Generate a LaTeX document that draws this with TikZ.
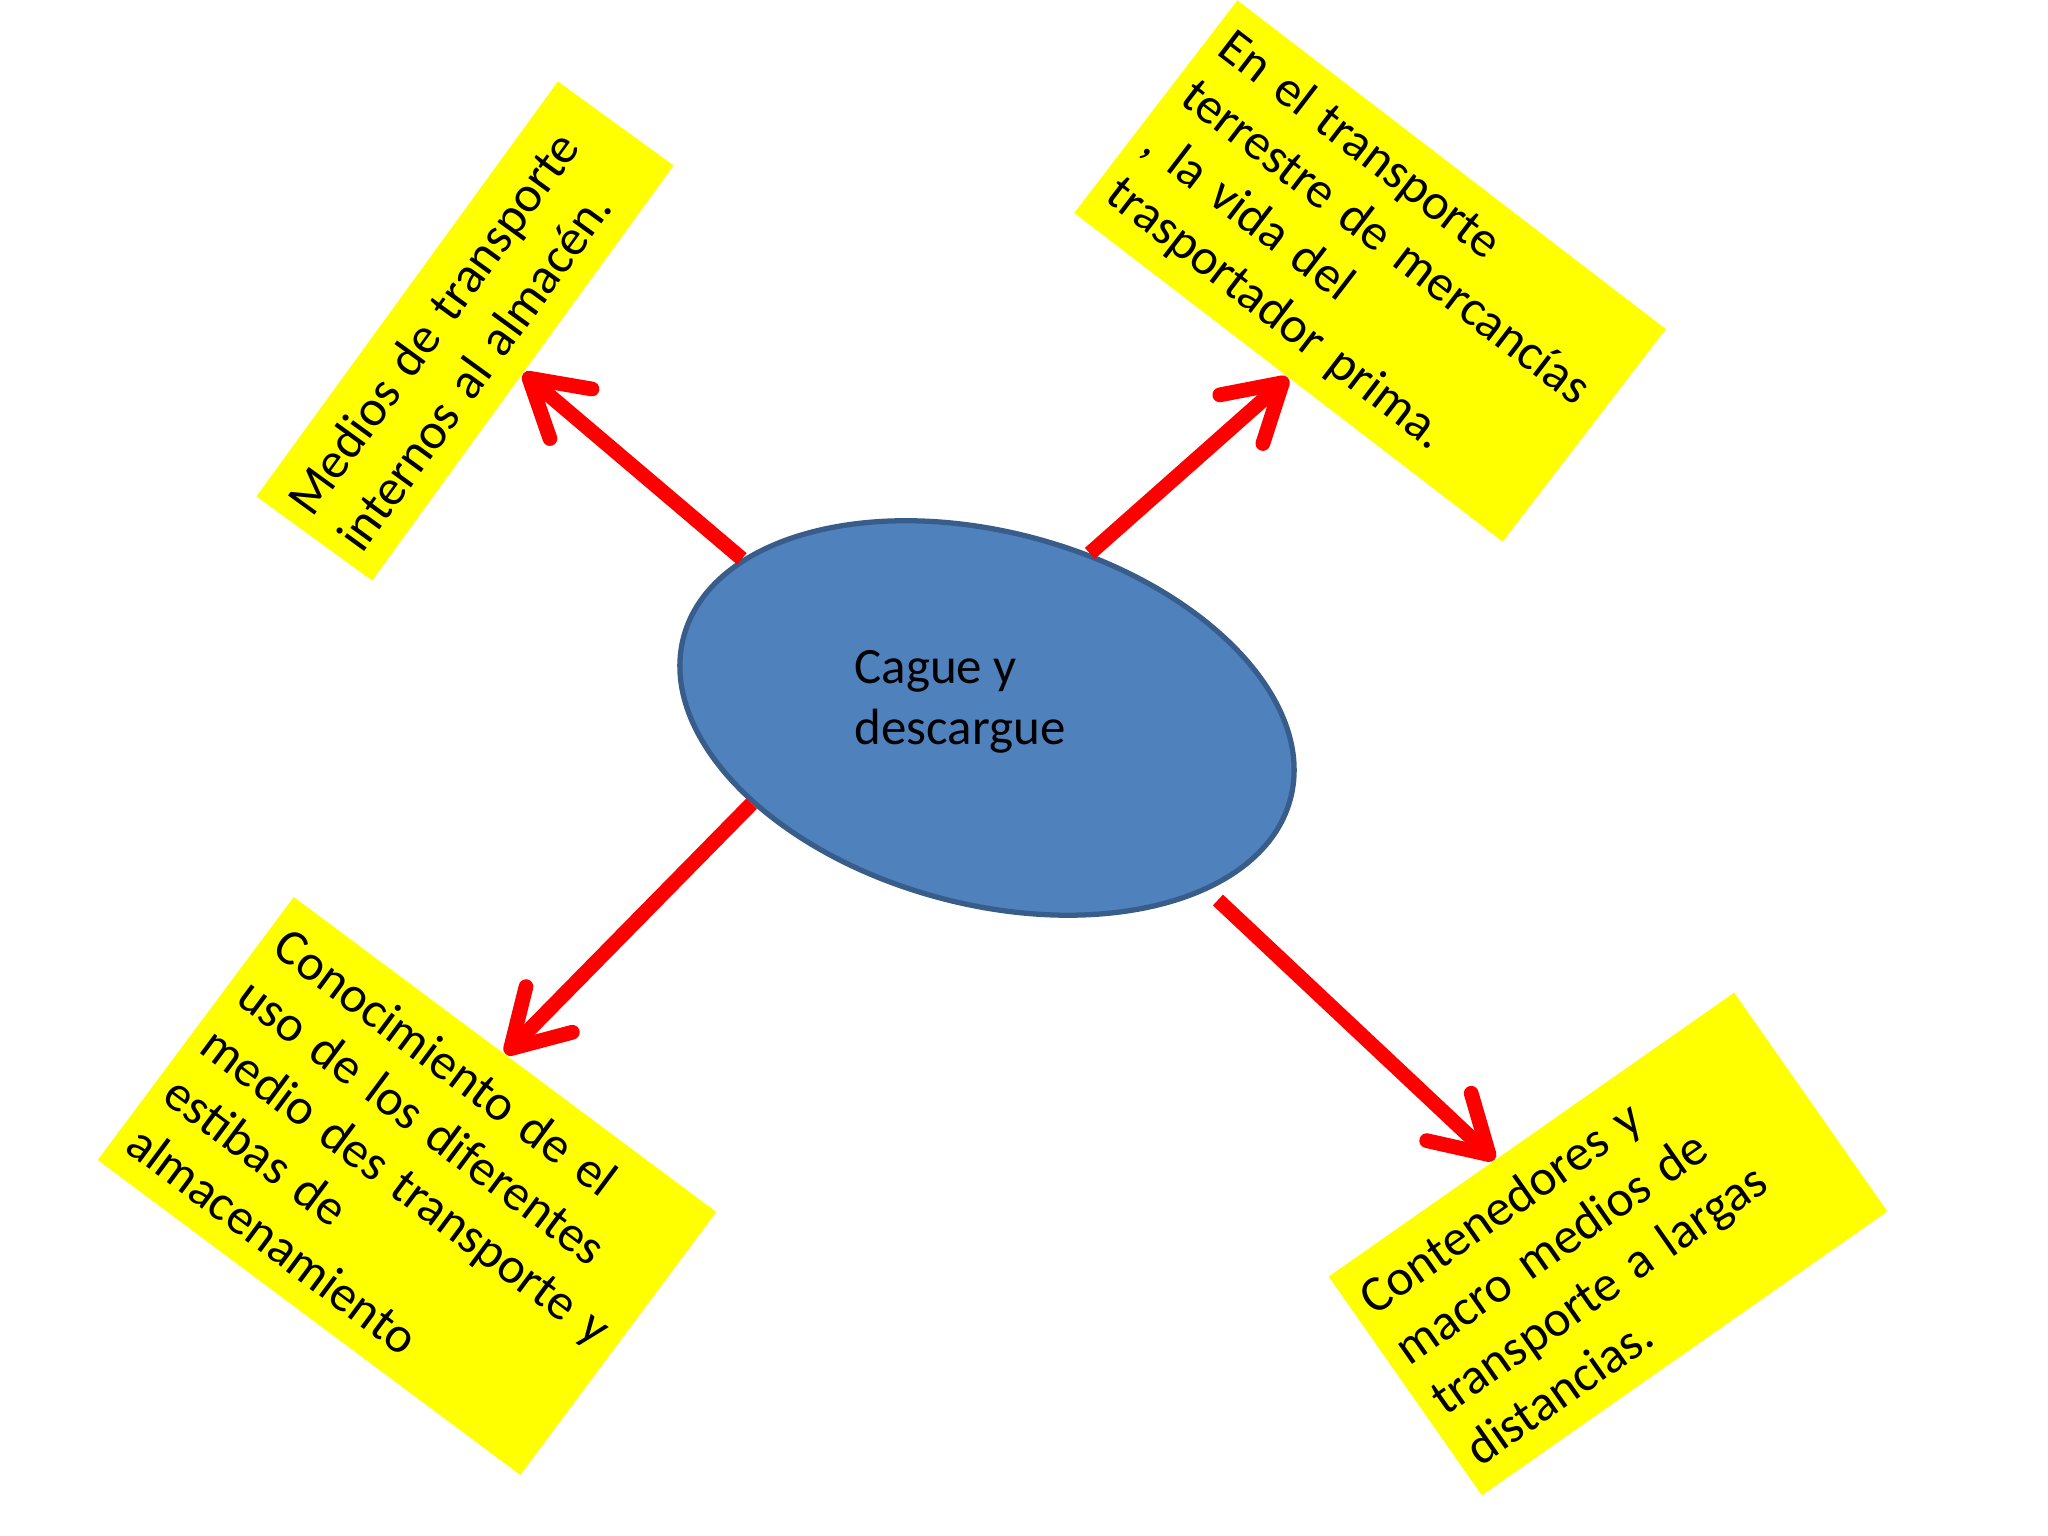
\documentclass[tikz,border=0pt]{standalone}
\usepackage{fontspec}
\setmainfont{Carlito}
\usetikzlibrary{arrows.meta,calc,shapes.geometric}
\definecolor{hubblue}{RGB}{79,129,189}
\definecolor{hubline}{RGB}{56,93,138}
\definecolor{notefill}{RGB}{255,255,0}
\definecolor{arrowred}{RGB}{255,0,0}

\begin{document}
\begin{tikzpicture}[
  hub/.style={ellipse,draw=hubline,line width=1.5pt,fill=hubblue,minimum width=6.28cm,minimum height=3.72cm,inner sep=0pt},
  note/.style={rectangle,fill=notefill,align=left,inner sep=1.5mm,font=\fontsize{14.5}{17.5}\selectfont},
  arrow/.style={draw=arrowred,line width=4.2pt,-{Straight Barb[length=5.5mm,width=6.5mm,round]}}
]
\useasboundingbox (0,0) rectangle (20.48,15.36);
\node[hub,rotate=-15] (hub) at (9.87,8.18) {};
\node[align=left,font=\fontsize{14.5}{17.5}\selectfont] (hubtext) at (9.60,8.34) {Cague y\\descargue};
\node[note,rotate=54,minimum width=5.13cm,minimum height=1.43cm,text width=4.83cm] (medios) at (4.65,12.05) {Medios de transporte\\internos al almacén.};
\node[note,rotate=-37.5,minimum width=5.40cm,minimum height=2.68cm,text width=5.10cm] (terrestre) at (13.70,12.65) {En el transporte\\terrestre de mercancías\\, la vida del\\trasportador prima.};
\node[note,rotate=-36.7,minimum width=5.27cm,minimum height=3.28cm,text width=4.97cm] (conocimiento) at (4.07,3.50) {Conocimiento de el\\uso de los diferentes\\medio des transporte y\\estibas de\\almacenamiento};
\node[note,rotate=35,minimum width=4.95cm,minimum height=2.67cm,text width=4.65cm] (contenedores) at (16.08,2.92) {Contenedores y\\macro medios de\\transporte a largas\\distancias.};
\draw[arrow] (hub.162) -- (medios.south);
\draw[arrow] (hub.73) -- (terrestre.south);
\draw[arrow] (hub.215) -- (conocimiento.north);
\draw[arrow,shorten <=1.4mm] (hub.337) -- ($(contenedores.north west)!0.41!(contenedores.north east)$);
\end{tikzpicture}
\end{document}
